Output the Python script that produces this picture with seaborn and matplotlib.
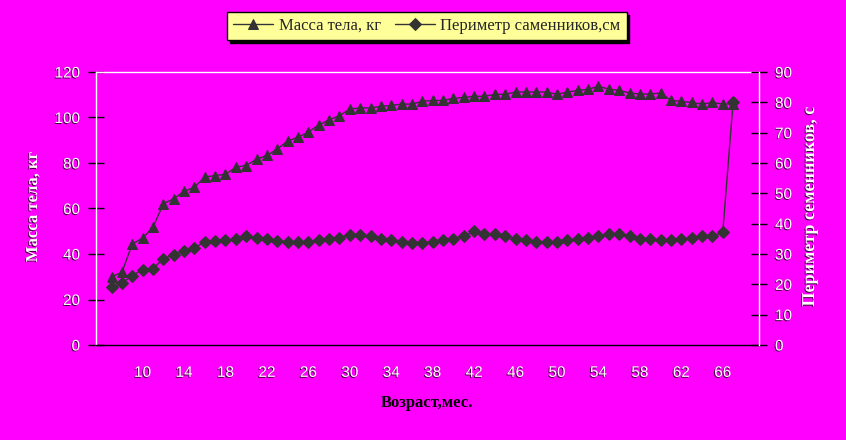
import matplotlib
matplotlib.use("Agg")
import matplotlib.pyplot as plt
import matplotlib.patheffects as pe
import numpy as np
import pandas as pd
import seaborn as sns

# ---- data ----
months = list(range(7, 68))
mass = [30.1, 31.9, 44.4, 47.0, 51.7, 62.1, 64.3, 67.5, 69.4, 73.8, 74.5, 75.0,
        78.2, 78.9, 81.7, 83.3, 86.1, 89.7, 91.3, 93.6, 96.7, 98.9, 100.8, 103.7,
        104.2, 104.2, 104.9, 105.3, 105.9, 105.9, 107.1, 107.5, 107.5, 108.4,
        108.8, 109.3, 109.3, 110.2, 110.2, 111.2, 111.2, 111.2, 111.2, 110.2,
        111.2, 111.9, 112.4, 113.7, 112.5, 111.9, 110.8, 110.3, 110.3, 110.8,
        107.5, 107.1, 106.6, 105.9, 106.6, 105.9, 106.0]
perimeter = [19.0, 20.4, 22.9, 24.8, 25.2, 28.4, 29.8, 31.0, 31.9, 34.1, 34.4, 34.5,
             34.9, 35.8, 35.3, 34.9, 34.4, 34.0, 34.0, 34.0, 34.5, 34.9, 35.3, 36.4,
             36.4, 35.8, 34.9, 34.5, 34.0, 33.6, 33.6, 34.0, 34.5, 34.9,
             35.8, 37.5, 36.7, 36.7, 35.8, 34.9, 34.5, 34.0, 34.0, 34.0,
             34.5, 34.9, 35.3, 35.8, 36.7, 36.7, 35.8, 34.9, 34.9, 34.5,
             34.5, 34.9, 35.3, 35.8, 35.8, 37.1, 80.1]
xtick_labels = list(range(10, 67, 4))
left_ticks = list(range(0, 121, 20))
right_ticks = list(range(0, 91, 10))

mass_label = "Масса тела, кг"
perim_label = "Периметр саменников,см"

df = pd.DataFrame({"month": months, "mass": mass, "perimeter": perimeter})

sns.set_style("white")
plt.rcParams['font.family'] = ['Liberation Sans', 'DejaVu Sans']

BG = "#FF00FF"
MK = "#333333"

fig = plt.figure(figsize=(8.46, 4.40), dpi=100, facecolor=BG)
W, H = 846, 440
ax = fig.add_axes([96 / W, (H - 345) / H, (759 - 96) / W, (345 - 72) / H])
ax.set_facecolor(BG)
ax2 = ax.twinx()

sns.lineplot(data=df, x="month", y="mass", ax=ax, color=MK, linewidth=1.0,
             marker="^", markersize=7.5, markeredgecolor=MK, markerfacecolor=MK,
             label=mass_label, legend=False)
sns.lineplot(data=df, x="month", y="perimeter", ax=ax2, color=MK, linewidth=1.0,
             marker="D", markersize=6, markeredgecolor=MK, markerfacecolor=MK,
             label=perim_label, legend=False)

ax.set_xlim(5.5, 69.5)
ax.set_ylim(0, 120)
ax2.set_ylim(0, 90)

shadow = [pe.withSimplePatchShadow(offset=(-0.7, -0.7), shadow_rgbFace="black", alpha=0.8)]

# x ticks
ax.set_xticks(xtick_labels)
ax.set_xticklabels([str(v) for v in xtick_labels])
ax.set_xticks(np.arange(5.5, 70, 1.0), minor=True)
ax.tick_params(axis="x", which="major", length=0, pad=15, labelsize=11, labelcolor="white")
ax.tick_params(axis="x", which="minor", length=11, direction="inout", color="black", width=1)

# left y ticks
ax.set_yticks(left_ticks)
ax.set_yticklabels([str(v) for v in left_ticks])
ax.tick_params(axis="y", which="major", length=11, direction="inout", color="black",
               width=1, pad=6, labelsize=11, labelcolor="white", left=True)
ax2.set_yticks(right_ticks)
ax2.set_yticklabels([str(v) for v in right_ticks])
ax2.tick_params(axis="y", which="major", length=11, direction="inout", color="black",
                width=1, pad=6, labelsize=11, labelcolor="white", right=True)

for lab in ax.get_xticklabels() + ax.get_yticklabels() + ax2.get_yticklabels():
    lab.set_path_effects(shadow)

# spines
for a in (ax, ax2):
    for s in a.spines.values():
        s.set_visible(False)
ax.spines["left"].set_visible(True)
ax.spines["left"].set_color("white")
ax.spines["top"].set_visible(True)
ax.spines["top"].set_color("white")
ax.spines["bottom"].set_visible(True)
ax.spines["bottom"].set_color("black")
ax2.spines["right"].set_visible(True)
ax2.spines["right"].set_color("white")
for s in ("left", "top", "bottom"):
    ax.spines[s].set_linewidth(1.0)
ax2.spines["right"].set_linewidth(1.0)

# axis labels
ax.set_ylabel("Масса тела, кг", color="white", fontsize=12, fontweight="bold",
              family=["Liberation Serif", "DejaVu Serif"], path_effects=shadow)
ax.yaxis.set_label_coords((41 - 96) / 663, 0.505)
ax2.set_ylabel("Периметр семенников, с", color="white", fontsize=13, fontweight="bold",
               family=["Liberation Serif", "DejaVu Serif"], rotation=90, path_effects=shadow)
ax2.yaxis.set_label_coords((801 - 96) / 663, 0.504)
ax.set_xlabel("Возраст,мес.", color="black", fontsize=12, fontweight="bold",
              family=["Liberation Serif", "DejaVu Serif"])
ax.xaxis.set_label_coords((427 - 96) / 663, (345 - 395) / 273)

# legend
handles = ax.get_lines()[:1] + ax2.get_lines()[:1]
leg = fig.legend(handles, [mass_label, perim_label], loc="center",
                 bbox_to_anchor=(427 / W, 1 - 26 / H), ncol=2, frameon=True,
                 fancybox=False, shadow={"color": "black", "alpha": 1.0},
                 prop={"family": ["Liberation Serif", "DejaVu Serif"], "size": 12},
                 handlelength=2.4, handletextpad=0.35, columnspacing=0.8,
                 borderpad=0.35, borderaxespad=0)
leg.get_frame().set_facecolor("#FFFF99")
leg.get_frame().set_edgecolor("black")
leg.get_frame().set_linewidth(1.0)
leg.get_frame().set_alpha(1.0)

fig.savefig("out.png", dpi=100, facecolor=BG)
